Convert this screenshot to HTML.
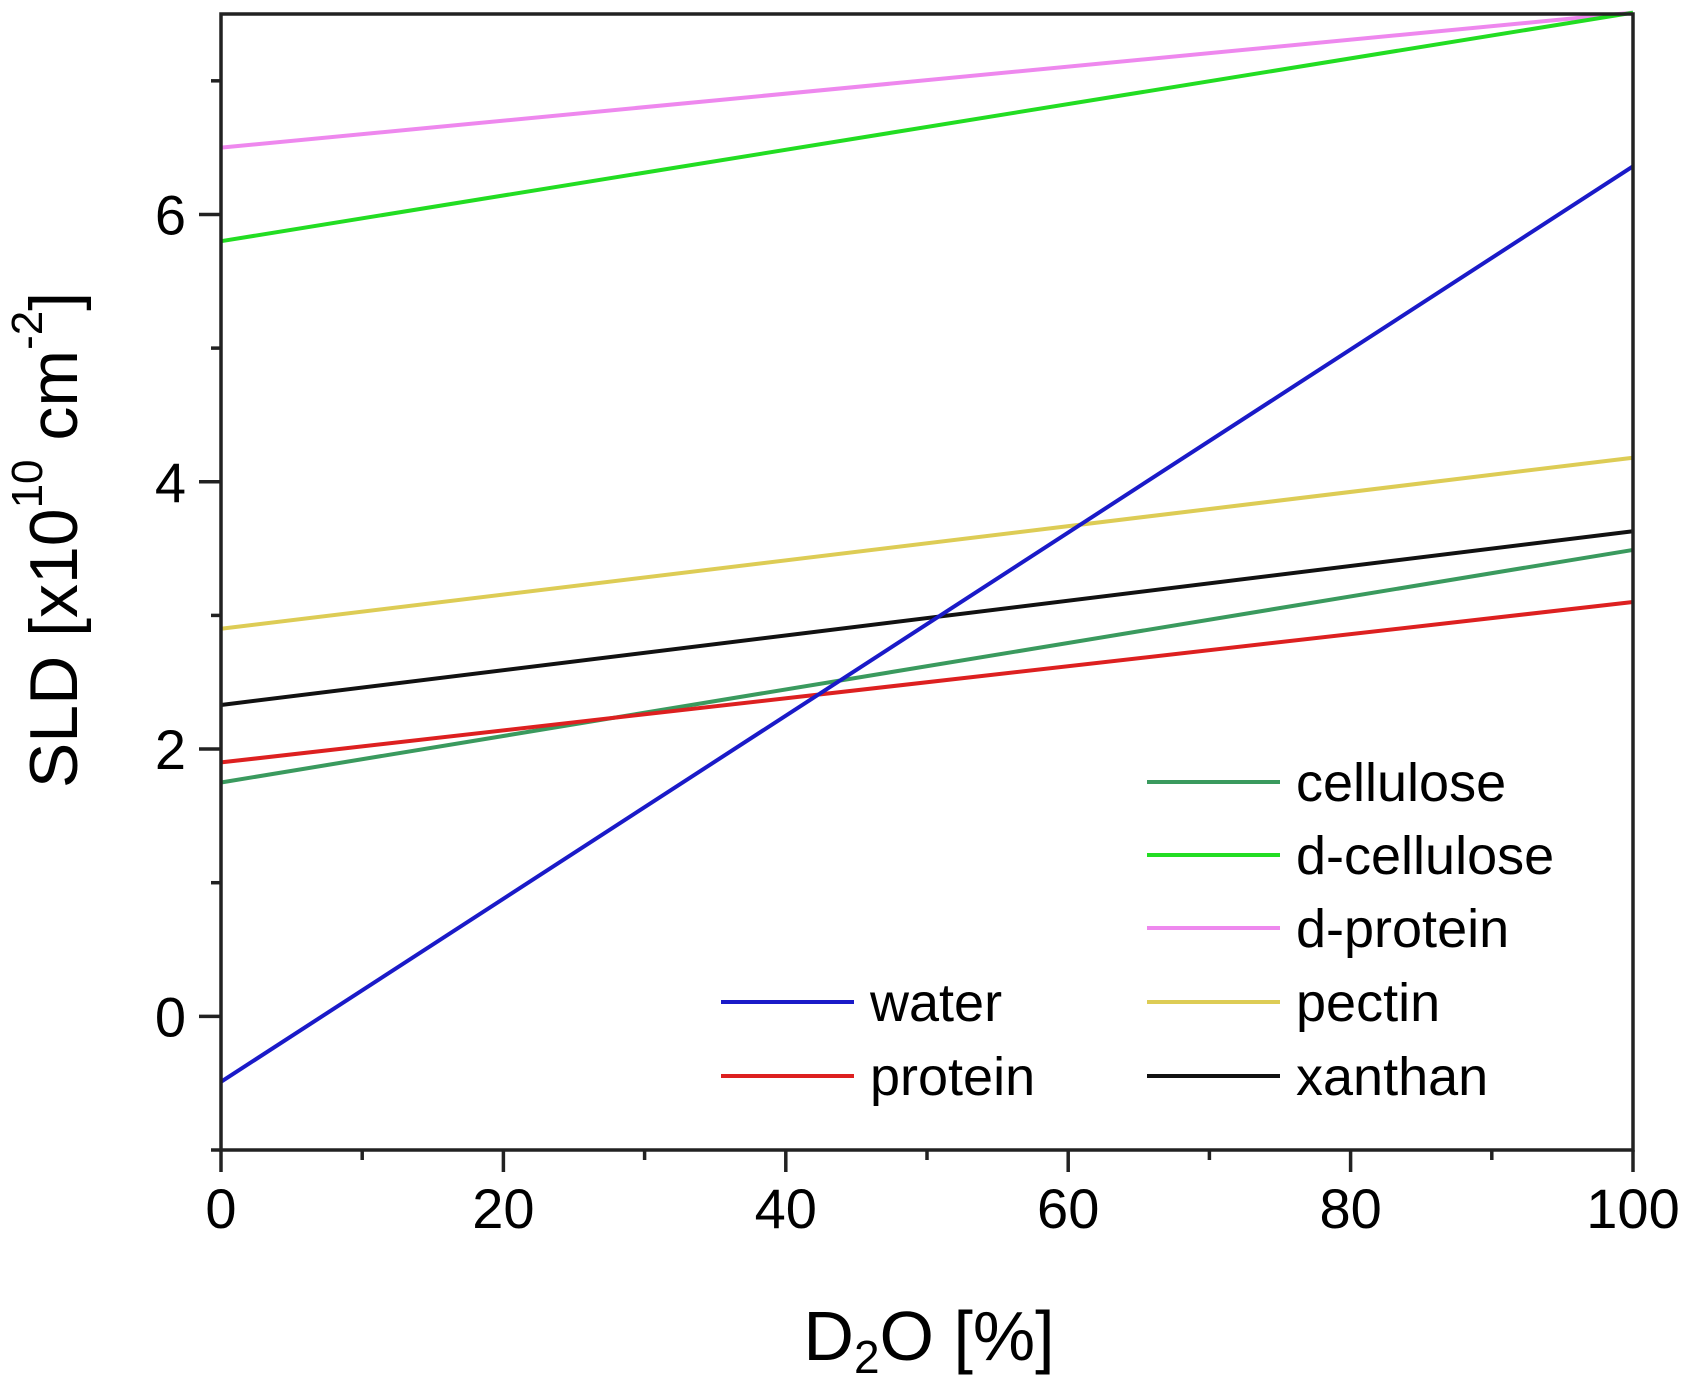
<!DOCTYPE html>
<html><head><meta charset="utf-8"><style>
body{margin:0;background:#fff}
svg{display:block;font-family:"Liberation Sans",Arial,sans-serif}
</style></head><body>
<svg id="chart" width="1693" height="1397" viewBox="0 0 1693 1397">
<g id="series"></g>
<g id="axes"></g>
<g id="legend"></g>
<text x="54" y="540" font-size="68" text-anchor="middle" transform="rotate(-90 54 540)" dominant-baseline="central">SLD [x10<tspan font-size="44" dy="-27">10</tspan><tspan dy="27"> cm</tspan><tspan font-size="44" dy="-27">-2</tspan><tspan dy="27">]</tspan></text>
<text x="929" y="1360" font-size="70" text-anchor="middle">D<tspan font-size="46" dy="13">2</tspan><tspan dy="-13">O [%]</tspan></text>
</svg>
<script>
const seriesNames = ["cellulose","d-cellulose","d-protein","pectin","xanthan","water","protein"];
const startValues = [1.75, 5.80, 6.50, 2.90, 2.33, -0.49, 1.90];
const endValues = [3.49, 7.51, 7.51, 4.18, 3.63, 6.36, 3.10];
const seriesColors = ["#3a9a5e","#22dd22","#ee88ee","#ddcc55","#111111","#1a1ac8","#dd2020"];
const xTicks = [0,20,40,60,80,100];
const yTicks = [0,2,4,6];

const X0=221,X1=1633,Y0=1150,Y1=14,XMIN=0,XMAX=100,YMIN=-1,YMAX=7.5;
const xs=v=>X0+(v-XMIN)/(XMAX-XMIN)*(X1-X0);
const ys=v=>Y0-(v-YMIN)/(YMAX-YMIN)*(Y0-Y1);
const NS="http://www.w3.org/2000/svg";
function mk(tag,attrs,parent){const e=document.createElementNS(NS,tag);for(const k in attrs)e.setAttribute(k,attrs[k]);parent.appendChild(e);return e;}
const S=document.getElementById('series'),A=document.getElementById('axes'),L=document.getElementById('legend');
const plotOrder=[2,1,3,4,0,6,5];
plotOrder.forEach(i=>{
  const l=mk('line',{x1:xs(0),y1:ys(startValues[i]),x2:xs(100),y2:ys(endValues[i]),stroke:seriesColors[i],'stroke-width':4},S);
  
  
});
const frame=mk('rect',{x:X0,y:Y1,width:X1-X0,height:Y0-Y1,fill:'none',stroke:'#222','stroke-width':3.5},A);


for(let v=0;v<=100;v+=10){
  const major=v%20===0;
  const t=mk('line',{x1:xs(v),x2:xs(v),y1:Y0,y2:Y0+(major?22:10),stroke:'#222','stroke-width':3.5},A);
  
  
}
xTicks.forEach(v=>{
  const t=mk('text',{x:xs(v),y:1228,'font-size':56,'text-anchor':'middle'},A);t.textContent=v;
  
  
});
for(let v=-1;v<=7;v+=1){
  const major=v%2===0;
  const t=mk('line',{x1:X0,x2:X0-(major?22:10),y1:ys(v),y2:ys(v),stroke:'#222','stroke-width':3.5},A);
  
  
}
yTicks.forEach(v=>{
  const t=mk('text',{x:186,y:ys(v)+20,'font-size':56,'text-anchor':'end'},A);t.textContent=v;
  
  
});
const legendPos=[[1147,782],[1147,855],[1147,928],[1147,1002],[1147,1076],[721,1002],[721,1076]];
seriesNames.forEach((n,i)=>{
  const [x,y]=legendPos[i];
  const g=mk('g',{},L);
  
  
  mk('line',{x1:x,x2:x+133,y1:y,y2:y,stroke:seriesColors[i],'stroke-width':4},g);
  const t=mk('text',{x:x+149,y:y+19,'font-size':54},g);t.textContent=n;
});
</script>
</body></html>
